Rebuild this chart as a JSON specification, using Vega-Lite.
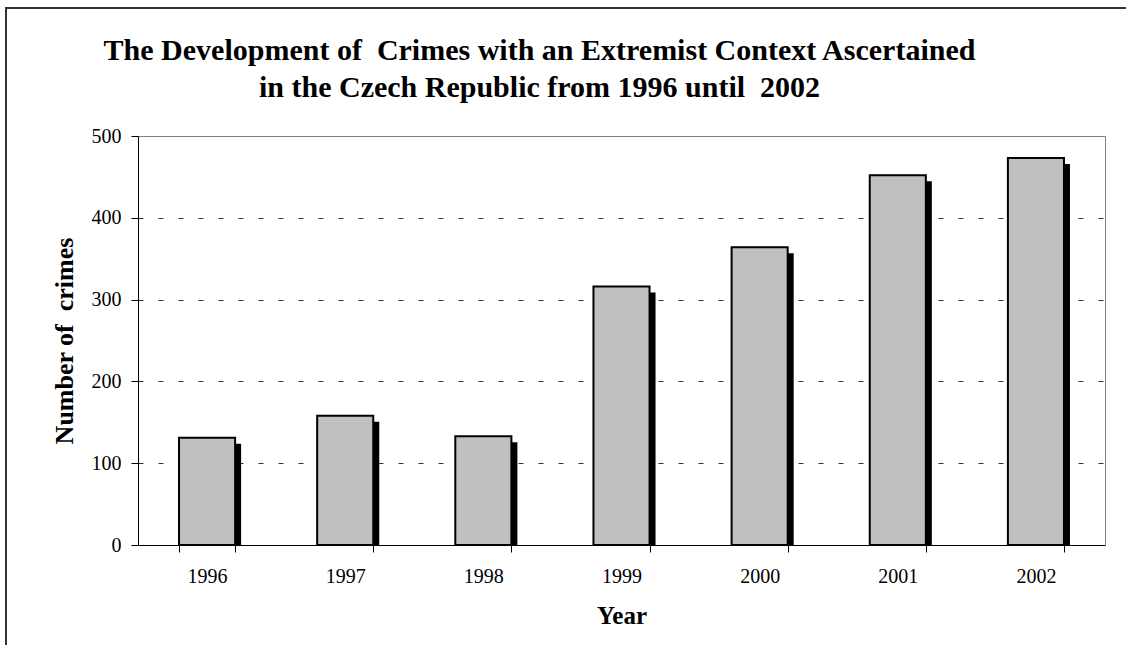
{
  "$schema": "https://vega.github.io/schema/vega-lite/v6.json",
  "width": 967,
  "height": 409,
  "autosize": "none",
  "padding": {"left": 138, "top": 136, "right": 21, "bottom": 100},
  "background": "white",
  "config": {
    "font": "Liberation Serif",
    "view": {"stroke": "#808080", "strokeWidth": 1}
  },
  "title": {
    "text": [
      "The Development of\u00a0 Crimes with an Extremist Context Ascertained",
      "in the Czech Republic from 1996 until\u00a0 2002"
    ],
    "font": "Liberation Serif",
    "fontSize": 30,
    "fontWeight": "bold",
    "color": "black",
    "lineHeight": 37,
    "anchor": "middle",
    "frame": "group",
    "dx": -82,
    "offset": -96
  },
  "data": {
    "values": [
      {"Year": "1996", "Crimes": 131},
      {"Year": "1997", "Crimes": 158},
      {"Year": "1998", "Crimes": 133},
      {"Year": "1999", "Crimes": 316},
      {"Year": "2000", "Crimes": 364},
      {"Year": "2001", "Crimes": 452},
      {"Year": "2002", "Crimes": 473}
    ]
  },
  "layer": [
    {
      "data": {"values": [{}]},
      "mark": {"type": "rect", "fill": null, "stroke": "#333333", "strokeWidth": 2, "clip": false},
      "encoding": {
        "x": {"value": -132},
        "y": {"value": -128},
        "x2": {"value": 1000},
        "y2": {"value": 530}
      }
    },
    {
      "encoding": {
        "x": {
          "field": "Year",
          "type": "ordinal",
          "scale": {"paddingInner": 0.594, "paddingOuter": 0.297},
          "axis": {
            "title": "Year",
            "labelAngle": 0,
            "tickBand": "extent",
            "tickSize": 7,
            "tickColor": "black",
            "domainColor": "black",
            "labelFontSize": 20,
            "labelColor": "black",
            "labelPadding": 14,
            "titleFontSize": 25,
            "titleFontWeight": "bold",
            "titleColor": "black",
            "titlePadding": 17,
            "grid": false
          }
        },
        "y": {
          "field": "Crimes",
          "type": "quantitative",
          "scale": {"domain": [0, 500], "nice": false},
          "axis": {
            "title": "Number of\u00a0 crimes",
            "values": [0, 100, 200, 300, 400, 500],
            "tickSize": 7,
            "tickColor": "black",
            "domainColor": "black",
            "labelFontSize": 20,
            "labelColor": "black",
            "labelPadding": 10,
            "titleFontSize": 26,
            "titleFontWeight": "bold",
            "titleColor": "black",
            "titlePadding": 14,
            "grid": true,
            "gridColor": "#333333",
            "gridDash": [5, 15],
            "gridOpacity": {
              "condition": {"test": "datum.value == 0 || datum.value == 500", "value": 0},
              "value": 1
            }
          }
        }
      },
      "layer": [
        {
          "mark": {"type": "bar", "color": "black", "xOffset": 6, "x2Offset": 6, "yOffset": 6, "clip": true}
        },
        {
          "mark": {"type": "bar", "fill": "#c0c0c0", "stroke": "black", "strokeWidth": 2}
        }
      ]
    }
  ]
}
